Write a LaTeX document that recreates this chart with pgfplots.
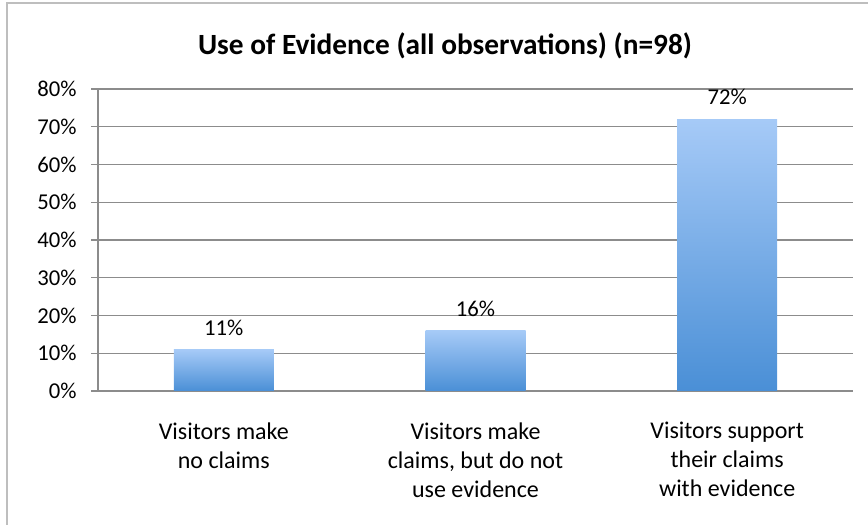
\documentclass[border=0pt]{standalone}
\usepackage{pgfplots}
\pgfplotsset{compat=1.18}
\usepackage{fontspec}
\setmainfont{Carlito}
\definecolor{gridgray}{RGB}{140,140,140}
\definecolor{bartop}{RGB}{166,202,247}
\definecolor{barbot}{RGB}{74,143,214}
\definecolor{framegray}{RGB}{190,190,190}
\pgfplotsset{mybar/.style={ybar, bar width=75pt, bar shift=0pt, draw=none, top color=bartop, bottom color=barbot}}
\begin{document}
\begin{tikzpicture}
\path[use as bounding box] (0pt,0pt) rectangle (651pt,393.75pt);
\draw[framegray, line width=1.2pt] (5.25pt,0pt) -- (5.25pt,391.5pt) -- (651pt,391.5pt);
\node[font=\fontsize{22}{26}\selectfont\bfseries] at (333.75pt,359pt) {Use of Evidence (all observations) (n=98)};
\begin{axis}[
  at={(73.5pt,100.5pt)}, anchor=south west,
  scale only axis, width=566.25pt, height=226.5pt,
  xmin=-0.5, xmax=2.5, ymin=0, ymax=80,
  axis x line*=bottom, axis y line*=left,
  axis line style={gridgray, line width=0.8pt},
  xtick={0,1,2},
  xticklabels={{Visitors make\\no claims},{Visitors make\\claims, but do not\\use evidence},{Visitors support\\their claims\\with evidence}},
  xticklabel style={align=center, font=\fontsize{18}{21.75}\selectfont, text=black, yshift=-15pt},
  x tick style={draw=none},
  extra x ticks={-0.5,0.5,1.5,2.5},
  extra x tick labels={},
  extra x tick style={tick style={draw=gridgray, line width=0.8pt}, major tick length=6pt, tick align=outside, grid=none},
  ytick={0,10,...,80},
  yticklabels={0\%,10\%,20\%,30\%,40\%,50\%,60\%,70\%,80\%},
  yticklabel style={font=\fontsize{17}{20}\selectfont, text=black, xshift=-7.5pt},
  y tick style={draw=gridgray, line width=0.8pt},
  major tick length=5pt, tick align=outside,
  ymajorgrids, grid style={gridgray, line width=0.8pt},
  /pgf/number format/assume math mode=true,
  nodes near coords={\pgfmathprintnumber{\pgfplotspointmeta}\%},
  nodes near coords style={font=\fontsize{17}{20}\selectfont, text=black, anchor=south, yshift=7pt},
]
\addplot[mybar] coordinates {(0,11)};
\addplot[mybar] coordinates {(1,16)};
\addplot[mybar] coordinates {(2,72)};
\end{axis}
\end{tikzpicture}
\end{document}
